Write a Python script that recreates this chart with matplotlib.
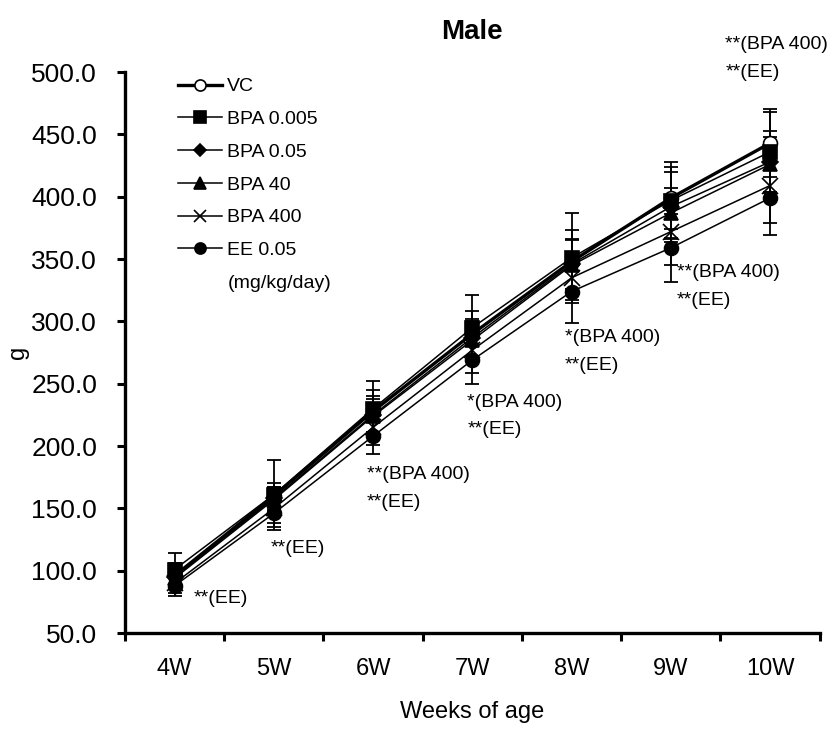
import matplotlib.pyplot as plt
from matplotlib.lines import Line2D

plt.rcParams.update({
    'font.family': ['Liberation Sans', 'DejaVu Sans'],
    'font.size': 14,
})

# Body weight (g), mean and SD per week
weeks = ['4W', '5W', '6W', '7W', '8W', '9W', '10W']

vc = [96, 160, 228, 290, 348, 399, 443]
bpa_0005 = [101, 161, 230, 295, 351, 397, 436]
bpa_005 = [95, 158, 225, 287, 346, 392, 428]
bpa_40 = [94, 157, 224, 285, 345, 387, 426]
bpa_400 = [90, 150, 215, 277, 335, 372, 409]
ee_005 = [88, 146, 208, 269, 324, 359, 399]

vc_sd = [10, 10, 17, 18, 25, 25, 27]
bpa_0005_sd = [13, 28, 22, 26, 36, 31, 32]
bpa_005_sd = [9, 9, 15, 15, 20, 28, 25]
bpa_40_sd = [8, 10, 14, 15, 20, 20, 22]
bpa_400_sd = [8, 12, 14, 18, 18, 27, 30]
ee_005_sd = [8, 11, 14, 19, 25, 27, 30]

# significance notes: (week index, text lines)
sig_notes = [
    (0, ['**(EE)']),
    (1, ['**(EE)']),
    (2, ['**(BPA 400)', '**(EE)']),
    (3, ['*(BPA 400)', '**(EE)']),
    (4, ['*(BPA 400)', '**(EE)']),
    (5, ['**(BPA 400)', '**(EE)']),
    (6, ['**(BPA 400)', '**(EE)']),
]
# anchor of the first line for each note (x in category units, y in g)
note_x = [1.19, 1.97, 2.94, 3.95, 4.93, 6.06, 6.55]
note_y = [78, 118, 177, 235, 287, 339, 522]

series = [
    ('VC', vc, vc_sd, dict(marker='o', mfc='white', lw=2.4)),
    ('BPA 0.005', bpa_0005, bpa_0005_sd, dict(marker='s', mfc='black', lw=1.1)),
    ('BPA 0.05', bpa_005, bpa_005_sd, dict(marker='D', mfc='black', lw=1.1, ms=8)),
    ('BPA 40', bpa_40, bpa_40_sd, dict(marker='^', mfc='black', lw=1.1)),
    ('BPA 400', bpa_400, bpa_400_sd, dict(marker='x', mfc='black', lw=1.1, ms=11, mew=1.2)),
    ('EE 0.05', ee_005, ee_005_sd, dict(marker='o', mfc='black', lw=1.1)),
]

fig = plt.figure(figsize=(8.33, 7.51), dpi=100)
ax = fig.add_axes([0.150, 0.157, 0.834, 0.747])

x = list(range(1, len(weeks) + 1))
handles = []
for label, mean, sd, style in series:
    style = dict(style)
    ms = style.pop('ms', 10)
    mew = style.pop('mew', 1.2)
    ax.errorbar(x, mean, yerr=sd, fmt='none', ecolor='black', elinewidth=1.3,
                capsize=4.7, capthick=1.3, zorder=2)
    h, = ax.plot(x, mean, color='black', mec='black', ms=ms, mew=mew,
                 label=label, zorder=3, **style)
    handles.append(h)

# unit line under the legend entries
handles.append(Line2D([], [], linestyle='none', label='(mg/kg/day)'))

ax.set_xlim(0.5, len(weeks) + 0.5)
ax.set_ylim(50, 500)
ax.set_yticks(range(50, 501, 50))
ax.set_yticklabels([f'{v:.1f}' for v in range(50, 501, 50)])
ax.set_xticks(x)
ax.set_xticklabels(weeks)
ax.set_xticks([i + 0.5 for i in range(len(weeks) + 1)], minor=True)
ax.tick_params(axis='x', which='major', length=0, pad=18, labelsize=17)
ax.tick_params(axis='x', which='minor', length=6, width=2.2, direction='out')
ax.tick_params(axis='y', length=6, width=2.2, direction='out', labelsize=19, pad=14)

for side in ['top', 'right']:
    ax.spines[side].set_visible(False)
for side in ['left', 'bottom']:
    ax.spines[side].set_linewidth(2.4)

for (i, lines), tx, ty in zip(sig_notes, note_x, note_y):
    for k, line in enumerate(lines):
        ax.text(tx, ty - k * 22, line, fontsize=14, ha='left', va='center',
                clip_on=False)

leg = ax.legend(handles=handles, loc='upper left', bbox_to_anchor=(0.076, 0.99),
                frameon=False, borderpad=0, borderaxespad=0, handlelength=2.3,
                handletextpad=0.25, labelspacing=0.78, fontsize=14, markerscale=0.8)

ax.set_title('Male', fontsize=20, fontweight='bold', pad=24)
ax.set_ylabel('g', fontsize=17)
ax.yaxis.set_label_coords(-0.138, 0.5)
ax.set_xlabel('Weeks of age', fontsize=17, labelpad=15)

fig.savefig('out.png', dpi=100, facecolor='white')
